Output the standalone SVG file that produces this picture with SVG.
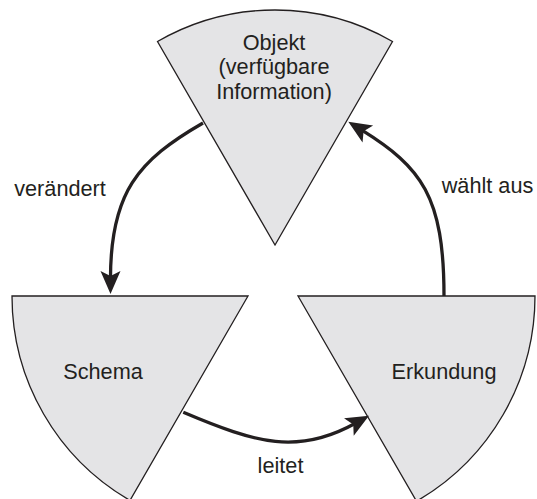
<svg xmlns="http://www.w3.org/2000/svg" width="537" height="499" viewBox="0 0 537 499">
  <style>
    .wedge { fill: #e4e4e6; stroke: #231f20; stroke-width: 1.3; }
    .label { font-family: "Liberation Sans", Arial, sans-serif; font-size: 21.7px; fill: #231f20; text-anchor: middle; }
    .flow { fill: none; stroke: #231f20; stroke-width: 3.3; marker-end: url(#head); }
  </style>
  <defs>
    <marker id="head" markerUnits="userSpaceOnUse" orient="auto" refX="7" refY="0" markerWidth="30" markerHeight="30" overflow="visible">
      <path d="M 23 0 L 0 -10 L 5 0 L 0 10 Z" fill="#231f20"/>
    </marker>
  </defs>

  <rect width="537" height="499" fill="#ffffff"/>

  <!-- three 60° sectors, each rotated by 120° -->
  <g id="objekt">
    <path class="wedge" d="M 275 245 L 157.5 41.5 A 235 235 0 0 1 392.5 41.5 Z"/>
    <text class="label" x="274" y="50">Objekt</text>
    <text class="label" x="274" y="74">(verfügbare</text>
    <text class="label" x="274" y="98.5">Information)</text>
  </g>

  <g id="schema">
    <path class="wedge" d="M 248 296 L 12 296 A 236 236 0 0 0 130 500.4 Z"/>
    <text class="label" x="103" y="379">Schema</text>
  </g>

  <g id="erkundung">
    <path class="wedge" d="M 298 296 L 535 296 A 237 237 0 0 1 416.5 501.2 Z"/>
    <text class="label" x="444" y="379">Erkundung</text>
  </g>

  <!-- cycle of curved arrows -->
  <g id="connectors">
    <path class="flow" d="M 203 123 C 137.8 160.5 110.5 193 110.5 278"/>
    <path class="flow" d="M 444 296 C 444 196 421.3 167.3 361.9 130.2"/>
    <path class="flow" d="M 183.3 412.3 C 256.9 443.5 298.1 455 355 423.5"/>
    <text class="label" x="60" y="195.7">verändert</text>
    <text class="label" x="487.5" y="193.3">wählt aus</text>
    <text class="label" x="280.5" y="472.7">leitet</text>
  </g>
</svg>
